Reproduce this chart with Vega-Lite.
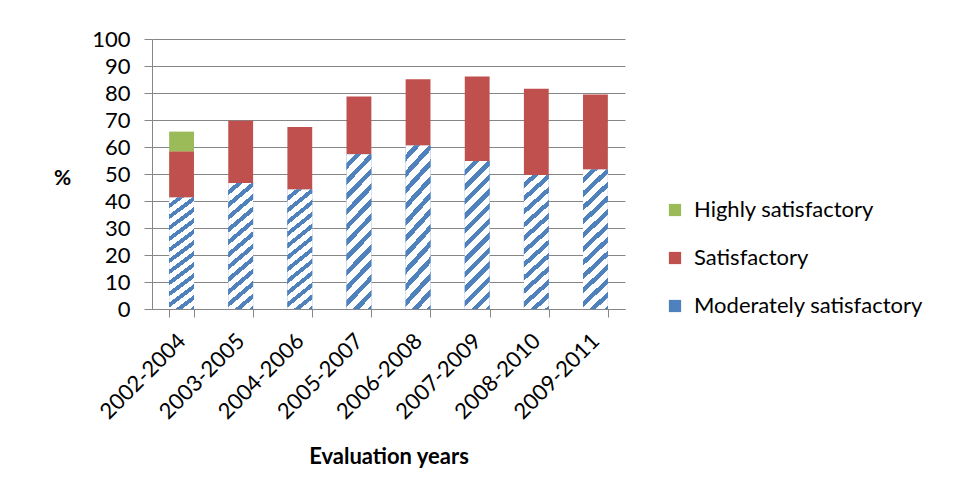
{
  "$schema": "https://vega.github.io/schema/vega-lite/v6.json",
  "width": 473,
  "height": 270,
  "autosize": {"type": "none"},
  "padding": {"left": 152, "top": 39, "right": 339, "bottom": 191},
  "background": "white",
  "config": {
    "font": "Lato",
    "view": {"stroke": null},
    "axis": {"domainColor": "#868686", "tickColor": "#868686", "gridColor": "#868686", "labelColor": "black", "titleColor": "black", "labelFont": "Lato", "titleFont": "Lato"}
  },
  "data": {
    "values": [
      {"period": "2002-2004", "rating": "Moderately satisfactory", "rank": 1, "value": 41.3},
      {"period": "2002-2004", "rating": "Satisfactory", "rank": 2, "value": 17.1},
      {"period": "2002-2004", "rating": "Highly satisfactory", "rank": 3, "value": 7.3},
      {"period": "2003-2005", "rating": "Moderately satisfactory", "rank": 1, "value": 46.7},
      {"period": "2003-2005", "rating": "Satisfactory", "rank": 2, "value": 23.0},
      {"period": "2004-2006", "rating": "Moderately satisfactory", "rank": 1, "value": 44.3},
      {"period": "2004-2006", "rating": "Satisfactory", "rank": 2, "value": 23.1},
      {"period": "2005-2007", "rating": "Moderately satisfactory", "rank": 1, "value": 57.3},
      {"period": "2005-2007", "rating": "Satisfactory", "rank": 2, "value": 21.4},
      {"period": "2006-2008", "rating": "Moderately satisfactory", "rank": 1, "value": 60.6},
      {"period": "2006-2008", "rating": "Satisfactory", "rank": 2, "value": 24.5},
      {"period": "2007-2009", "rating": "Moderately satisfactory", "rank": 1, "value": 54.8},
      {"period": "2007-2009", "rating": "Satisfactory", "rank": 2, "value": 31.3},
      {"period": "2008-2010", "rating": "Moderately satisfactory", "rank": 1, "value": 49.6},
      {"period": "2008-2010", "rating": "Satisfactory", "rank": 2, "value": 32.0},
      {"period": "2009-2011", "rating": "Moderately satisfactory", "rank": 1, "value": 51.7},
      {"period": "2009-2011", "rating": "Satisfactory", "rank": 2, "value": 27.7}
    ]
  },
  "encoding": {
    "x": {
      "field": "period",
      "type": "nominal",
      "sort": null,
      "scale": {"paddingInner": 0.58, "paddingOuter": 0.29},
      "axis": {
        "title": "Evaluation years",
        "titleFontSize": 22,
        "titleFontWeight": "bold",
        "titlePadding": 24,
        "labelAngle": -45,
        "labelAlign": "right",
        "labelBaseline": "middle",
        "labelFontSize": 22,
        "labelPadding": 20,
        "labelOverlap": false,
        "tickBand": "extent",
        "tickSize": 8,
        "grid": false
      }
    }
  },
  "layer": [
    {
      "mark": {"type": "bar"},
      "encoding": {
        "y": {
          "field": "value",
          "type": "quantitative",
          "stack": "zero",
          "scale": {"domain": [0, 100]},
          "axis": {
            "title": "%",
            "titleAngle": 0,
            "titleX": -90,
            "titleY": 149,
            "titleFontSize": 21,
            "titleFontWeight": "bold",
            "values": [0, 10, 20, 30, 40, 50, 60, 70, 80, 90, 100],
            "tickCount": 11,
            "labelOverlap": false,
            "labelFontSize": 22,
            "labelPadding": 14,
            "tickSize": 8,
            "grid": true
          }
        },
        "color": {
          "field": "rating",
          "type": "nominal",
          "scale": {
            "domain": ["Highly satisfactory", "Satisfactory", "Moderately satisfactory"],
            "range": ["#9BBB59", "#C0504D", "#4F81BD"]
          },
          "legend": {
            "title": null,
            "orient": "none",
            "legendX": 512,
            "legendY": 160,
            "symbolType": "square",
            "symbolSize": 150,
            "symbolStrokeWidth": 0,
            "labelFontSize": 22,
            "labelFont": "Lato",
            "labelColor": "black",
            "labelLimit": 400,
            "rowPadding": 26,
            "labelOffset": 8
          }
        },
        "order": {"field": "rank", "type": "quantitative"}
      }
    },
    {
      "transform": [{"filter": "datum.rating === 'Moderately satisfactory'"}],
      "mark": {
        "type": "bar",
        "fill": {
          "gradient": "linear",
          "x1": 0, "y1": 0, "x2": 0.2, "y2": 1.2,
          "stops": [
            {"offset": 0, "color": "#ffffff"}, {"offset": 0.045, "color": "#ffffff"},
            {"offset": 0.045, "color": "#4F81BD"}, {"offset": 0.08, "color": "#4F81BD"},
            {"offset": 0.08, "color": "#ffffff"}, {"offset": 0.125, "color": "#ffffff"},
            {"offset": 0.125, "color": "#4F81BD"}, {"offset": 0.16, "color": "#4F81BD"},
            {"offset": 0.16, "color": "#ffffff"}, {"offset": 0.205, "color": "#ffffff"},
            {"offset": 0.205, "color": "#4F81BD"}, {"offset": 0.24, "color": "#4F81BD"},
            {"offset": 0.24, "color": "#ffffff"}, {"offset": 0.285, "color": "#ffffff"},
            {"offset": 0.285, "color": "#4F81BD"}, {"offset": 0.32, "color": "#4F81BD"},
            {"offset": 0.32, "color": "#ffffff"}, {"offset": 0.365, "color": "#ffffff"},
            {"offset": 0.365, "color": "#4F81BD"}, {"offset": 0.40, "color": "#4F81BD"},
            {"offset": 0.40, "color": "#ffffff"}, {"offset": 0.445, "color": "#ffffff"},
            {"offset": 0.445, "color": "#4F81BD"}, {"offset": 0.48, "color": "#4F81BD"},
            {"offset": 0.48, "color": "#ffffff"}, {"offset": 0.525, "color": "#ffffff"},
            {"offset": 0.525, "color": "#4F81BD"}, {"offset": 0.56, "color": "#4F81BD"},
            {"offset": 0.56, "color": "#ffffff"}, {"offset": 0.605, "color": "#ffffff"},
            {"offset": 0.605, "color": "#4F81BD"}, {"offset": 0.64, "color": "#4F81BD"},
            {"offset": 0.64, "color": "#ffffff"}, {"offset": 0.685, "color": "#ffffff"},
            {"offset": 0.685, "color": "#4F81BD"}, {"offset": 0.72, "color": "#4F81BD"},
            {"offset": 0.72, "color": "#ffffff"}, {"offset": 0.765, "color": "#ffffff"},
            {"offset": 0.765, "color": "#4F81BD"}, {"offset": 0.80, "color": "#4F81BD"},
            {"offset": 0.80, "color": "#ffffff"}, {"offset": 0.845, "color": "#ffffff"},
            {"offset": 0.845, "color": "#4F81BD"}, {"offset": 0.88, "color": "#4F81BD"},
            {"offset": 0.88, "color": "#ffffff"}, {"offset": 0.925, "color": "#ffffff"},
            {"offset": 0.925, "color": "#4F81BD"}, {"offset": 0.96, "color": "#4F81BD"},
            {"offset": 0.96, "color": "#ffffff"}, {"offset": 1, "color": "#ffffff"}
          ]
        }
      },
      "encoding": {
        "y": {
          "field": "value",
          "type": "quantitative",
          "stack": null,
          "axis": {
            "title": "%",
            "titleAngle": 0,
            "titleX": -90,
            "titleY": 149,
            "titleFontSize": 21,
            "titleFontWeight": "bold",
            "values": [0, 10, 20, 30, 40, 50, 60, 70, 80, 90, 100],
            "tickCount": 11,
            "labelOverlap": false,
            "labelFontSize": 22,
            "labelPadding": 14,
            "tickSize": 8,
            "grid": true
          }
        }
      }
    }
  ]
}
